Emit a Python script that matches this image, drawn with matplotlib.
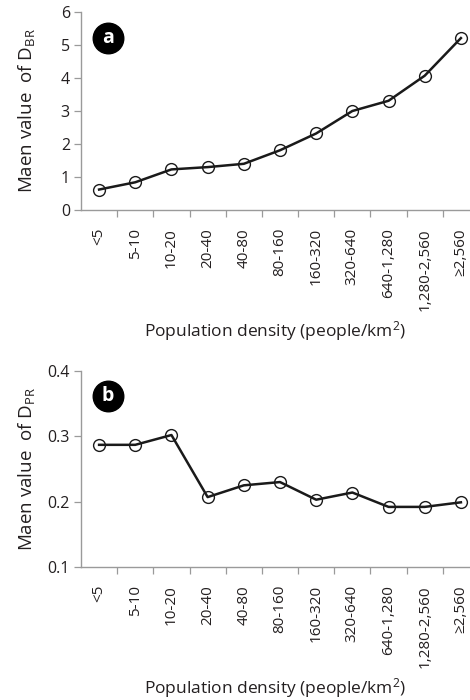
import matplotlib
matplotlib.use("Agg")
import matplotlib.pyplot as plt

plt.rcParams['font.family'] = ['Open Sans', 'DejaVu Sans']
plt.rcParams['mathtext.default'] = 'regular'

categories = ["<5", "5-10", "10-20", "20-40", "40-80", "80-160", "160-320",
              "320-640", "640-1,280", "1,280-2,560", "≥2,560"]
dbr_values = [0.62, 0.84, 1.23, 1.30, 1.40, 1.81, 2.32, 3.00, 3.31, 4.07, 5.21]
dpr_values = [0.287, 0.287, 0.302, 0.207, 0.225, 0.230, 0.203, 0.214, 0.192, 0.192, 0.199]

panels = [
    dict(vals=dbr_values, ylim=(0, 6), yticks=[0, 1, 2, 3, 4, 5, 6],
         yfmt="{:g}", ylabel="Maen value  of D$_{BR}$", letter="a",
         rect=[81/470, 0.70, 398/470, 198/700]),
    dict(vals=dpr_values, ylim=(0.1, 0.4), yticks=[0.1, 0.2, 0.3, 0.4],
         yfmt="{:.1f}", ylabel="Maen value  of D$_{PR}$", letter="b",
         rect=[81/470, 0.19, 398/470, 196/700]),
]

fig = plt.figure(figsize=(4.7, 7.0), dpi=100)
spine_col = "#9a9a9a"
text_col = "#231f20"

for p in panels:
    ax = fig.add_axes(p["rect"])
    x = list(range(len(categories)))
    ax.plot(x, p["vals"], color="#1a1a1a", lw=1.8, marker="o", ms=8.5,
            mfc="none", mec="#1a1a1a", mew=1.0, zorder=3, clip_on=False)
    ax.set_xlim(-0.5, len(categories) - 0.5)
    ax.set_ylim(*p["ylim"])
    ax.set_yticks(p["yticks"])
    ax.set_yticklabels([p["yfmt"].format(v) for v in p["yticks"]])
    ax.set_xticks([i + 0.5 for i in range(len(categories) - 1)])
    ax.set_xticklabels([])
    ax.set_xticks(x, minor=True)
    ax.set_xticklabels(categories, minor=True, rotation=90, va="top", ha="center")
    ax.tick_params(axis="x", which="major", length=5, width=0.9, color=spine_col, direction="out")
    ax.tick_params(axis="x", which="minor", length=0, pad=13, labelsize=11, labelcolor=text_col)
    ax.tick_params(axis="y", length=5, width=0.9, color=spine_col, labelsize=11.5, labelcolor=text_col, pad=3)
    for s in ["top", "right"]:
        ax.spines[s].set_visible(False)
    for s in ["left", "bottom"]:
        ax.spines[s].set_color(spine_col)
        ax.spines[s].set_linewidth(1.0)
    h = p["rect"][3] * 700
    ax.set_ylabel(p["ylabel"], fontsize=13.5, color=text_col, va="center")
    ax.yaxis.set_label_coords(-54 / 398, 0.5)
    ax.set_xlabel("Population density (people/km$^{2}$)", fontsize=12.5, color=text_col, va="center")
    ax.xaxis.set_label_coords((275 - 81) / 398, -121 / h)
    ax.plot([0.068], [0.87], marker="o", ms=22, color="black", transform=ax.transAxes,
            clip_on=False, zorder=5)
    ax.text(0.068, 0.87, p["letter"], transform=ax.transAxes, color="white",
            fontsize=14, fontweight="bold", ha="center", va="center", zorder=6)

fig.savefig("out.png", dpi=100)
